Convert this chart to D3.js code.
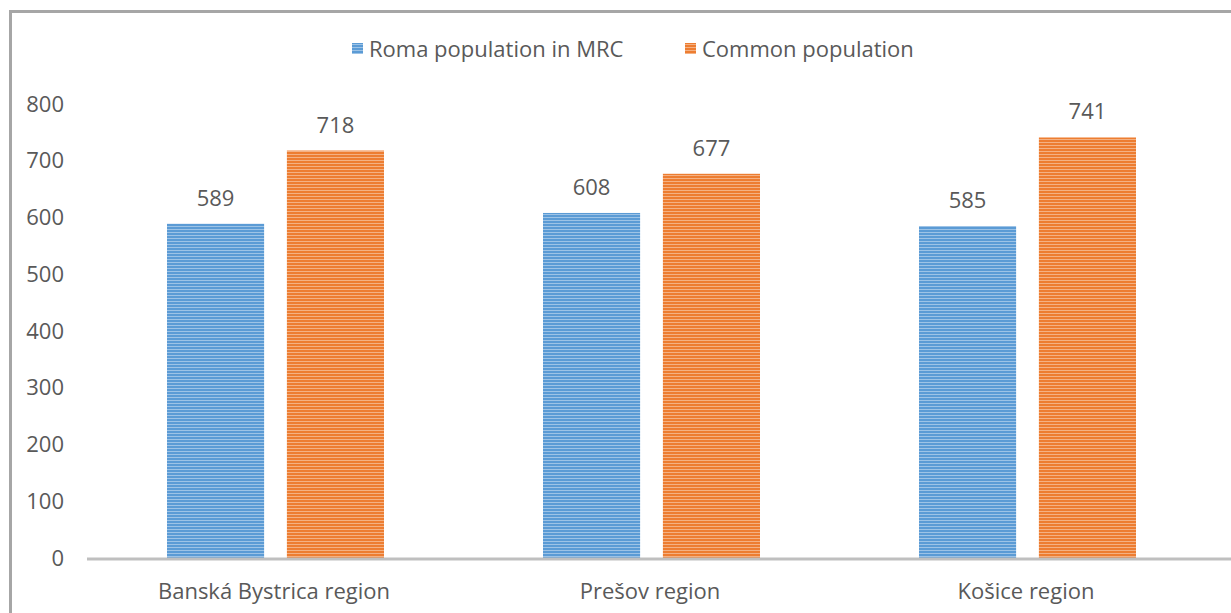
<!DOCTYPE html>
<html lang="en">
<head>
<meta charset="UTF-8">
<title>Roma vs common population</title>
<style>
  body { margin: 0; background: #fff; }
  text { font-family: "Open Sans", "Liberation Sans", sans-serif; fill: #595959; }
</style>
</head>
<body>
<svg id="svg" width="1231" height="613"></svg>
<script src="https://d3js.org/d3.v7.min.js"></script>
<script>
const regions = ['Banská Bystrica region', 'Prešov region', 'Košice region']
const seriesNames = ['Roma population in MRC', 'Common population']
const roma = [589, 608, 585]
const common = [718, 677, 741]
const yTicks = [0, 100, 200, 300, 400, 500, 600, 700, 800]

const colors = ['#5b9bd5', '#ed7d31']
const light = ['#9dc3e6', '#f4b183']

const svg = d3.select('#svg')

// frame
svg.append('path')
    .attr('d', 'M10.5,613 V11.5 H1231')
    .attr('fill', 'none')
    .attr('stroke', '#a6a6a6')
    .attr('stroke-width', 3)

// striped fills
const defs = svg.append('defs')
colors.forEach((c, i) => {
    const p = defs.append('pattern')
        .attr('id', 'stripe' + i)
        .attr('width', 8).attr('height', 3)
        .attr('patternUnits', 'userSpaceOnUse')
    p.append('rect').attr('width', 8).attr('height', 3).attr('fill', c)
    p.append('rect').attr('y', 1).attr('width', 8).attr('height', 1).attr('fill', light[i])
})

const x = d3.scaleBand()
    .domain(regions)
    .range([87, 1215])
const x1 = d3.scaleBand()
    .domain([0, 1])
    .range([80, 297])
    .paddingInner(0.19)

const y = d3.scaleLinear()
    .domain([0, 800])
    .range([558, 104])

// y tick labels
svg.append('g').selectAll('text')
    .data(yTicks)
    .join('text')
    .attr('x', 64)
    .attr('y', d => y(d))
    .attr('dy', '0.35em')
    .attr('text-anchor', 'end')
    .attr('font-size', 22)
    .text(d => d)

const rows = regions.map((r, i) => [roma[i], common[i]])

const groups = svg.append('g').selectAll('g')
    .data(rows)
    .join('g')
    .attr('transform', (d, i) => `translate(${x(regions[i])},0)`)

groups.selectAll('rect')
    .data(d => d)
    .join('rect')
    .attr('x', (d, j) => x1(j))
    .attr('width', x1.bandwidth())
    .attr('y', d => y(d))
    .attr('height', d => y(0) - y(d))
    .attr('fill', (d, j) => `url(#stripe${j})`)

groups.selectAll('text.lbl')
    .data(d => d)
    .join('text')
    .attr('class', 'lbl')
    .attr('x', (d, j) => x1(j) + x1.bandwidth() / 2)
    .attr('y', d => y(d) - 18)
    .attr('text-anchor', 'middle')
    .attr('font-size', 22)
    .text(d => d)

// x axis line
svg.append('line')
    .attr('x1', 87).attr('x2', 1231)
    .attr('y1', y(0) + 1).attr('y2', y(0) + 1)
    .attr('stroke', '#bfbfbf')
    .attr('stroke-width', 3)

svg.append('g').selectAll('text')
    .data(regions)
    .join('text')
    .attr('x', d => x(d) + x.bandwidth() / 2 - 1)
    .attr('y', 599)
    .attr('text-anchor', 'middle')
    .attr('font-size', 22)
    .text(d => d)

// legend
const legendX = [352, 685]
const legend = svg.append('g').selectAll('g')
    .data(seriesNames)
    .join('g')
    .attr('transform', (d, i) => `translate(${legendX[i]},43)`)
legend.append('rect')
    .attr('width', 11).attr('height', 11)
    .attr('fill', (d, i) => `url(#stripe${i})`)
legend.append('text')
    .attr('x', 17)
    .attr('y', 6)
    .attr('dy', '0.35em')
    .attr('font-size', 22)
    .text(d => d)
</script>
</body>
</html>
